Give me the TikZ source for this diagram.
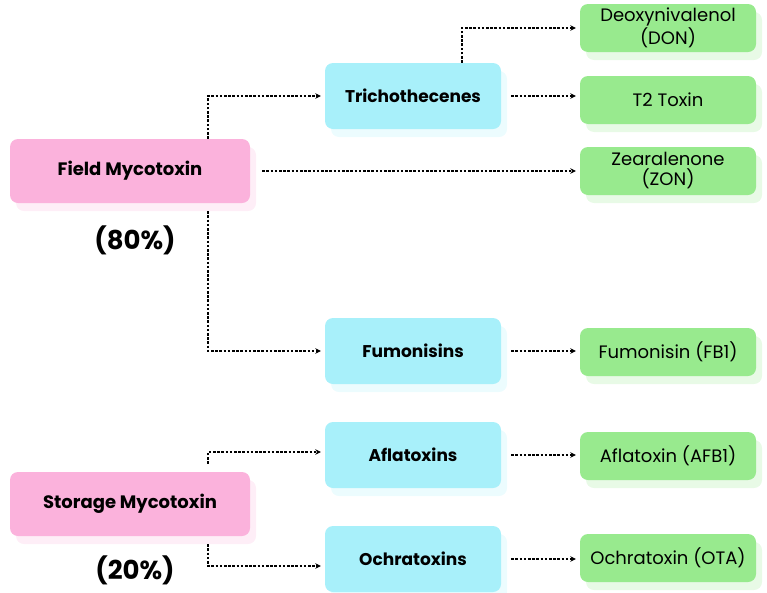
\documentclass[tikz,border=0pt]{standalone}
\usepackage{fontspec}
\setmainfont{Poppins}
\usetikzlibrary{arrows.meta,shadows}
\definecolor{pinkbox}{RGB}{251,178,220}
\definecolor{cyanbox}{RGB}{168,240,250}
\definecolor{greenbox}{RGB}{152,234,142}
\tikzset{
  base/.style={rounded corners=8pt, minimum height=64pt, align=center, inner sep=0pt},
  catbox/.style={base, fill=pinkbox, minimum width=240pt, font=\fontsize{18}{20}\selectfont\bfseries,
    drop shadow={shadow xshift=6pt, shadow yshift=-8pt, fill=pinkbox!22, opacity=1}},
  famhbox/.style={base, fill=cyanbox, minimum width=176pt, minimum height=66pt, font=\fontsize{17}{19}\selectfont\bfseries,
    drop shadow={shadow xshift=6pt, shadow yshift=-8pt, fill=cyanbox!22, opacity=1}},
  toxbox/.style={base, fill=greenbox, minimum width=176pt, minimum height=48pt, font=\fontsize{18}{20}\selectfont,
    drop shadow={shadow xshift=6pt, shadow yshift=-8pt, fill=greenbox!22, opacity=1}},
  pct/.style={font=\fontsize{26}{28}\selectfont\bfseries},
  conn/.style={black, line width=1.3pt, dash pattern=on 2.6pt off 1.6pt, -{Stealth[length=5.5pt,width=5.5pt]}},
}
\begin{document}
\begin{tikzpicture}[x=1pt,y=-1pt]
\useasboundingbox (0,0) rectangle (767,592);
% category nodes
\node[catbox] (field) at (130,171) {Field Mycotoxin};
\node[pct] (p80) at (135,240) {(80\%)};
\node[catbox] (storage) at (130,504) {Storage Mycotoxin};
\node[pct] (p20) at (135,570) {(20\%)};
% family nodes
\node[famhbox] (tri) at (413,96) {Trichothecenes};
\node[famhbox] (fum) at (413,351) {Fumonisins};
\node[famhbox] (afl) at (413,455) {Aflatoxins};
\node[famhbox] (och) at (413,559) {Ochratoxins};
% toxin nodes
\node[toxbox] (don) at (668,28) {Deoxynivalenol\\(DON)};
\node[toxbox] (t2) at (668,100) {T2 Toxin};
\node[toxbox] (zon) at (668,171) {Zearalenone\\(ZON)};
\node[toxbox] (fb1) at (668,352) {Fumonisin (FB1)};
\node[toxbox] (afb1) at (668,456) {Aflatoxin (AFB1)};
\node[toxbox] (ota) at (668,558) {Ochratoxin (OTA)};
% connectors
\draw[conn] (field.north -| 208,0) -- (208,96) -- ([xshift=-4pt]tri.west);
\draw[conn] ([yshift=-8pt]field.south -| 208,0) -- (208,351) -- ([xshift=-4pt]fum.west);
\draw[conn] ([xshift=12pt]field.east) -- ([xshift=-4pt]zon.west);
\draw[conn] (tri.north -| 462,0) -- (462,28) -- ([xshift=-4pt]don.west);
\draw[conn] ([xshift=10pt]tri.east) -- ([xshift=-4pt]t2.west |- tri.east);
\draw[conn] ([xshift=10pt]fum.east) -- ([xshift=-4pt]fb1.west |- fum.east);
\draw[conn] ([xshift=10pt]afl.east) -- ([xshift=-4pt]afb1.west |- afl.east);
\draw[conn] ([xshift=10pt]och.east) -- ([xshift=-4pt]ota.west |- och.east);
\draw[conn] ([yshift=8pt]storage.north -| 208,0) -- (208,452) -- ([xshift=-4pt]afl.west |- 0,452);
\draw[conn] ([yshift=-8pt]storage.south -| 208,0) -- (208,566) -- ([xshift=-4pt]och.west |- 0,566);
\end{tikzpicture}
\end{document}
